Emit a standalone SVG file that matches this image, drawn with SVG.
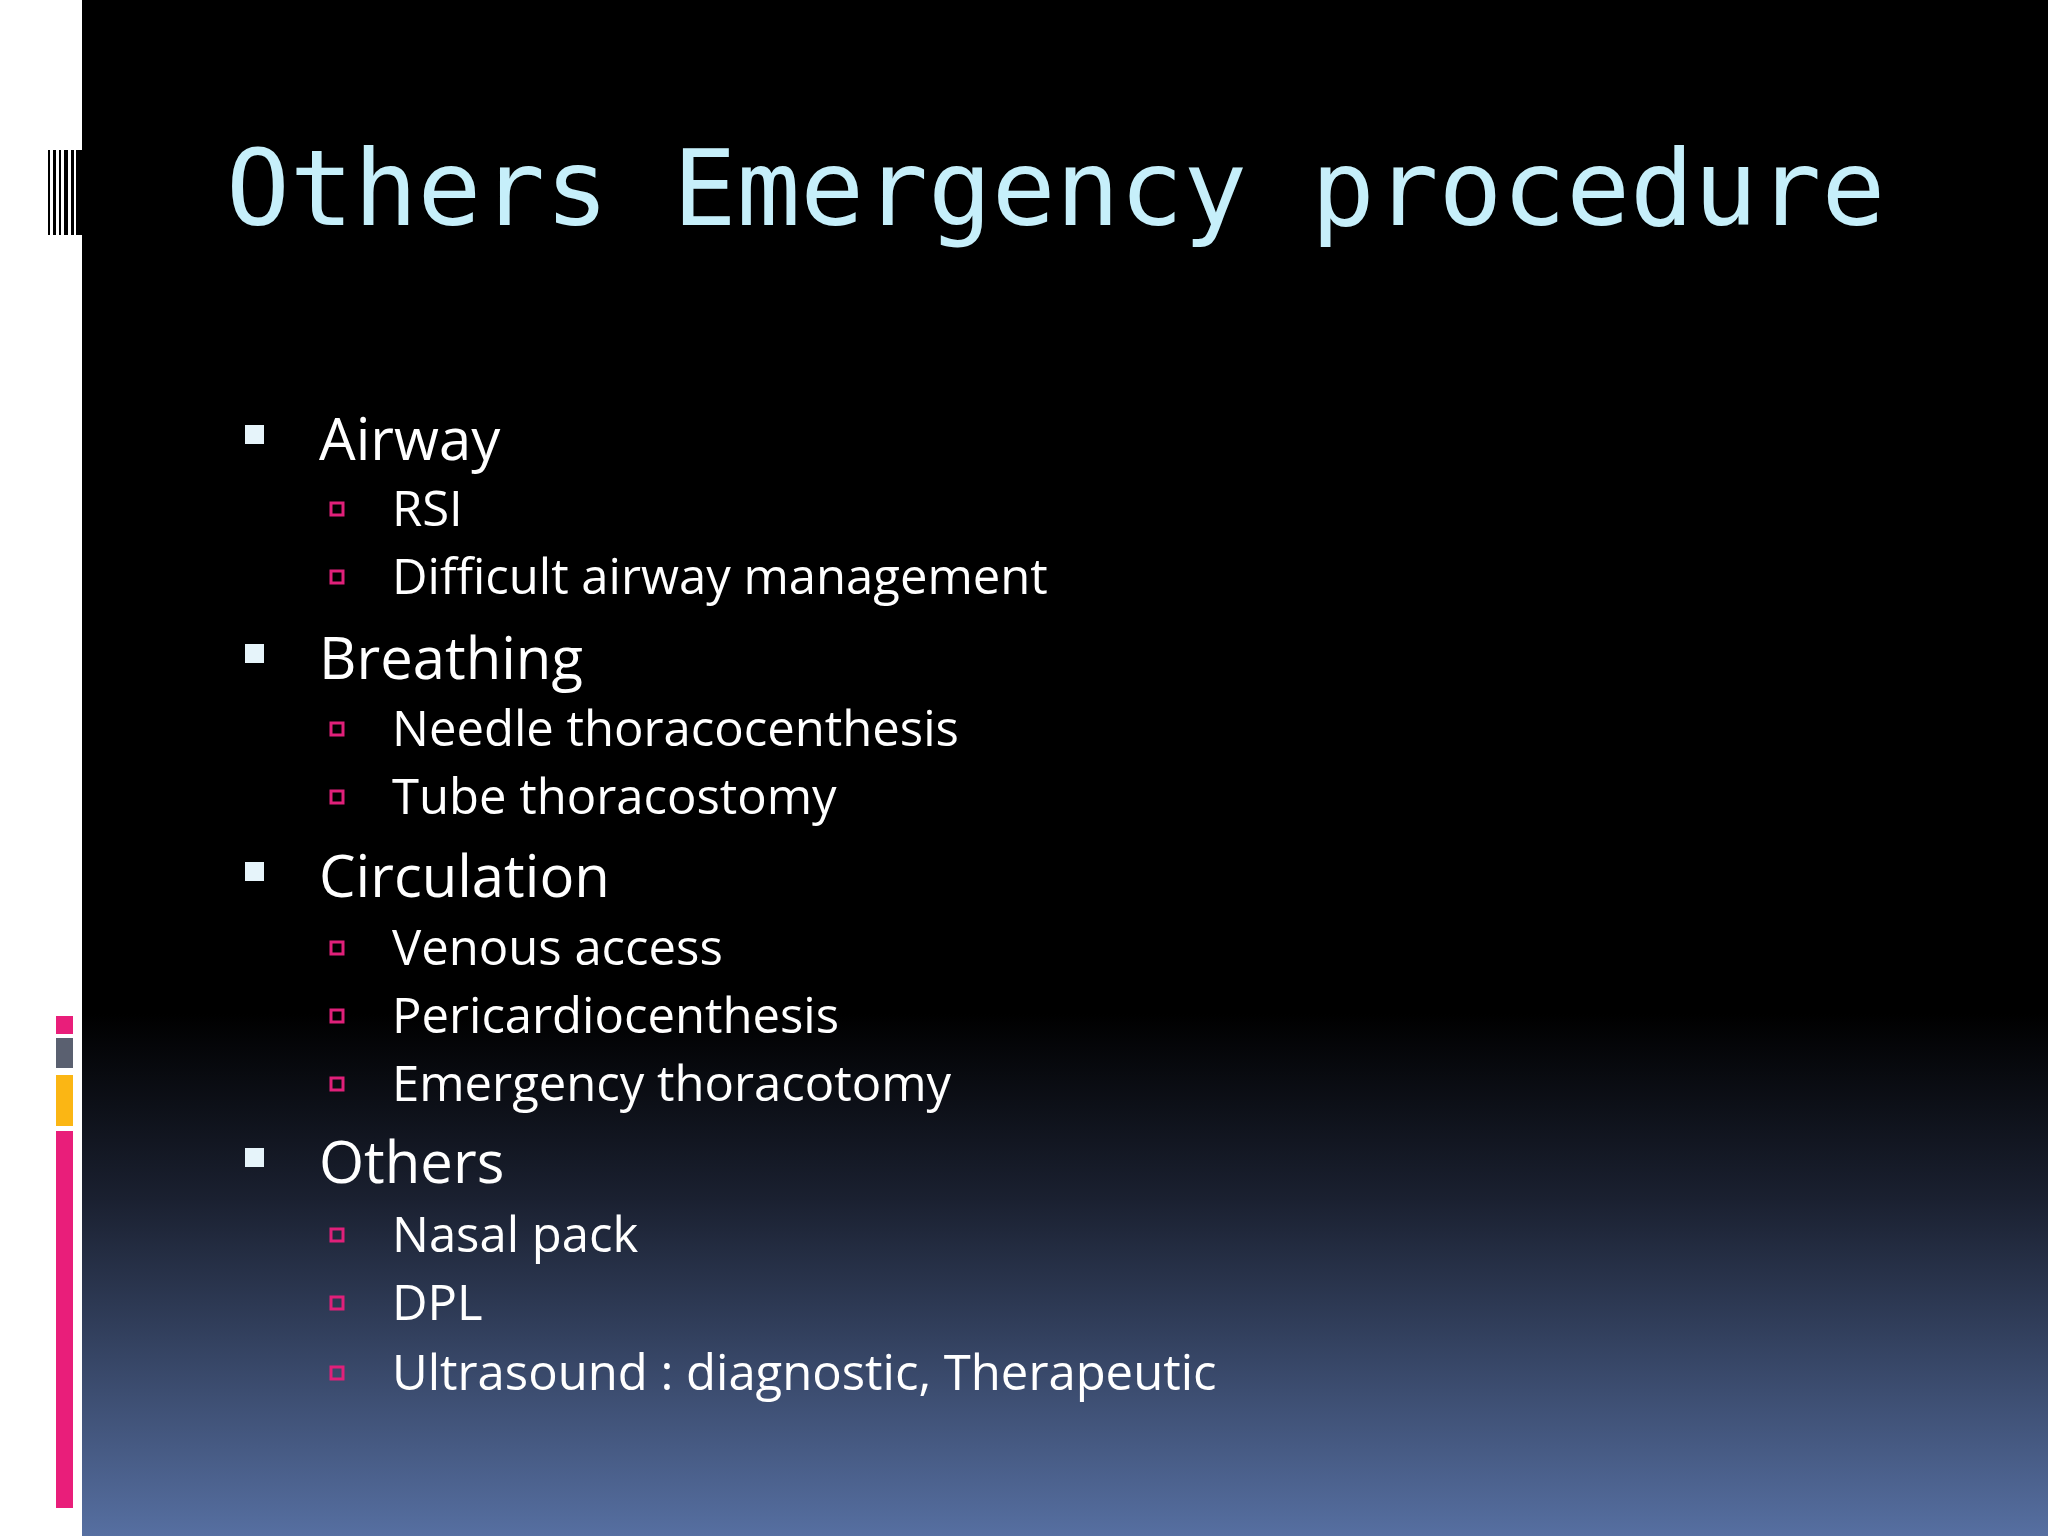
<svg xmlns="http://www.w3.org/2000/svg" width="2048" height="1536" viewBox="0 0 2048 1536">
<defs>
<linearGradient id="bg" x1="0" y1="0" x2="0" y2="1">
<stop offset="0" stop-color="#000"/>
<stop offset="0.66" stop-color="#000"/>
<stop offset="0.78" stop-color="#1a2030"/>
<stop offset="1" stop-color="#566fa1"/>
</linearGradient>
<style>
.l1{font-family:"Open Sans","Liberation Sans",sans-serif;font-size:58px;fill:#fff}
.l2{font-family:"Open Sans","Liberation Sans",sans-serif;font-size:49px;fill:#fff}
.b1{fill:#e6f4fa}
.b2{fill:none;stroke:#e0207a;stroke-width:3}
</style>
</defs>
<rect width="2048" height="1536" fill="#fff"/>
<rect x="82" width="1966" height="1536" fill="url(#bg)"/>
<g id="barcode" fill="#000">
<rect x="48" y="150" width="2" height="85"/><rect x="53" y="150" width="3" height="85"/><rect x="59" y="150" width="2" height="85"/><rect x="64" y="150" width="4" height="85"/><rect x="71" y="150" width="3" height="85"/><rect x="76" y="150" width="6" height="85"/>
</g>
<g id="bars">
<rect x="56" y="1016" width="17" height="18" fill="#e91e7a"/>
<rect x="56" y="1038" width="17" height="30" fill="#5a6070"/>
<rect x="56" y="1075" width="17" height="51" fill="#fbb614"/>
<rect x="56" y="1131" width="17" height="377" fill="#e91e7a"/>
</g>
<text x="226" y="225" font-family="'DejaVu Sans Mono','Liberation Mono',monospace" font-size="106" fill="#c6effa">Others Emergency procedure</text>
<g id="list">
<rect class="b1" x="245" y="425" width="19" height="19"/><text class="l1" x="319" y="460">Airway</text>
<rect class="b2" x="331" y="503" width="12" height="12"/><text class="l2" x="392" y="526">RSI</text>
<rect class="b2" x="331" y="571" width="12" height="12"/><text class="l2" x="392" y="594">Difficult airway management</text>
<rect class="b1" x="245" y="644" width="19" height="19"/><text class="l1" x="319" y="679">Breathing</text>
<rect class="b2" x="331" y="723" width="12" height="12"/><text class="l2" x="392" y="746">Needle thoracocenthesis</text>
<rect class="b2" x="331" y="791" width="12" height="12"/><text class="l2" x="392" y="814">Tube thoracostomy</text>
<rect class="b1" x="245" y="862" width="19" height="19"/><text class="l1" x="319" y="897">Circulation</text>
<rect class="b2" x="331" y="942" width="12" height="12"/><text class="l2" x="392" y="965">Venous access</text>
<rect class="b2" x="331" y="1010" width="12" height="12"/><text class="l2" x="392" y="1033">Pericardiocenthesis</text>
<rect class="b2" x="331" y="1078" width="12" height="12"/><text class="l2" x="392" y="1101">Emergency thoracotomy</text>
<rect class="b1" x="245" y="1148" width="19" height="19"/><text class="l1" x="319" y="1183">Others</text>
<rect class="b2" x="331" y="1229" width="12" height="12"/><text class="l2" x="392" y="1252">Nasal pack</text>
<rect class="b2" x="331" y="1297" width="12" height="12"/><text class="l2" x="392" y="1320">DPL</text>
<rect class="b2" x="331" y="1367" width="12" height="12"/><text class="l2" x="392" y="1390">Ultrasound : diagnostic, Therapeutic</text>
</g>
</svg>
